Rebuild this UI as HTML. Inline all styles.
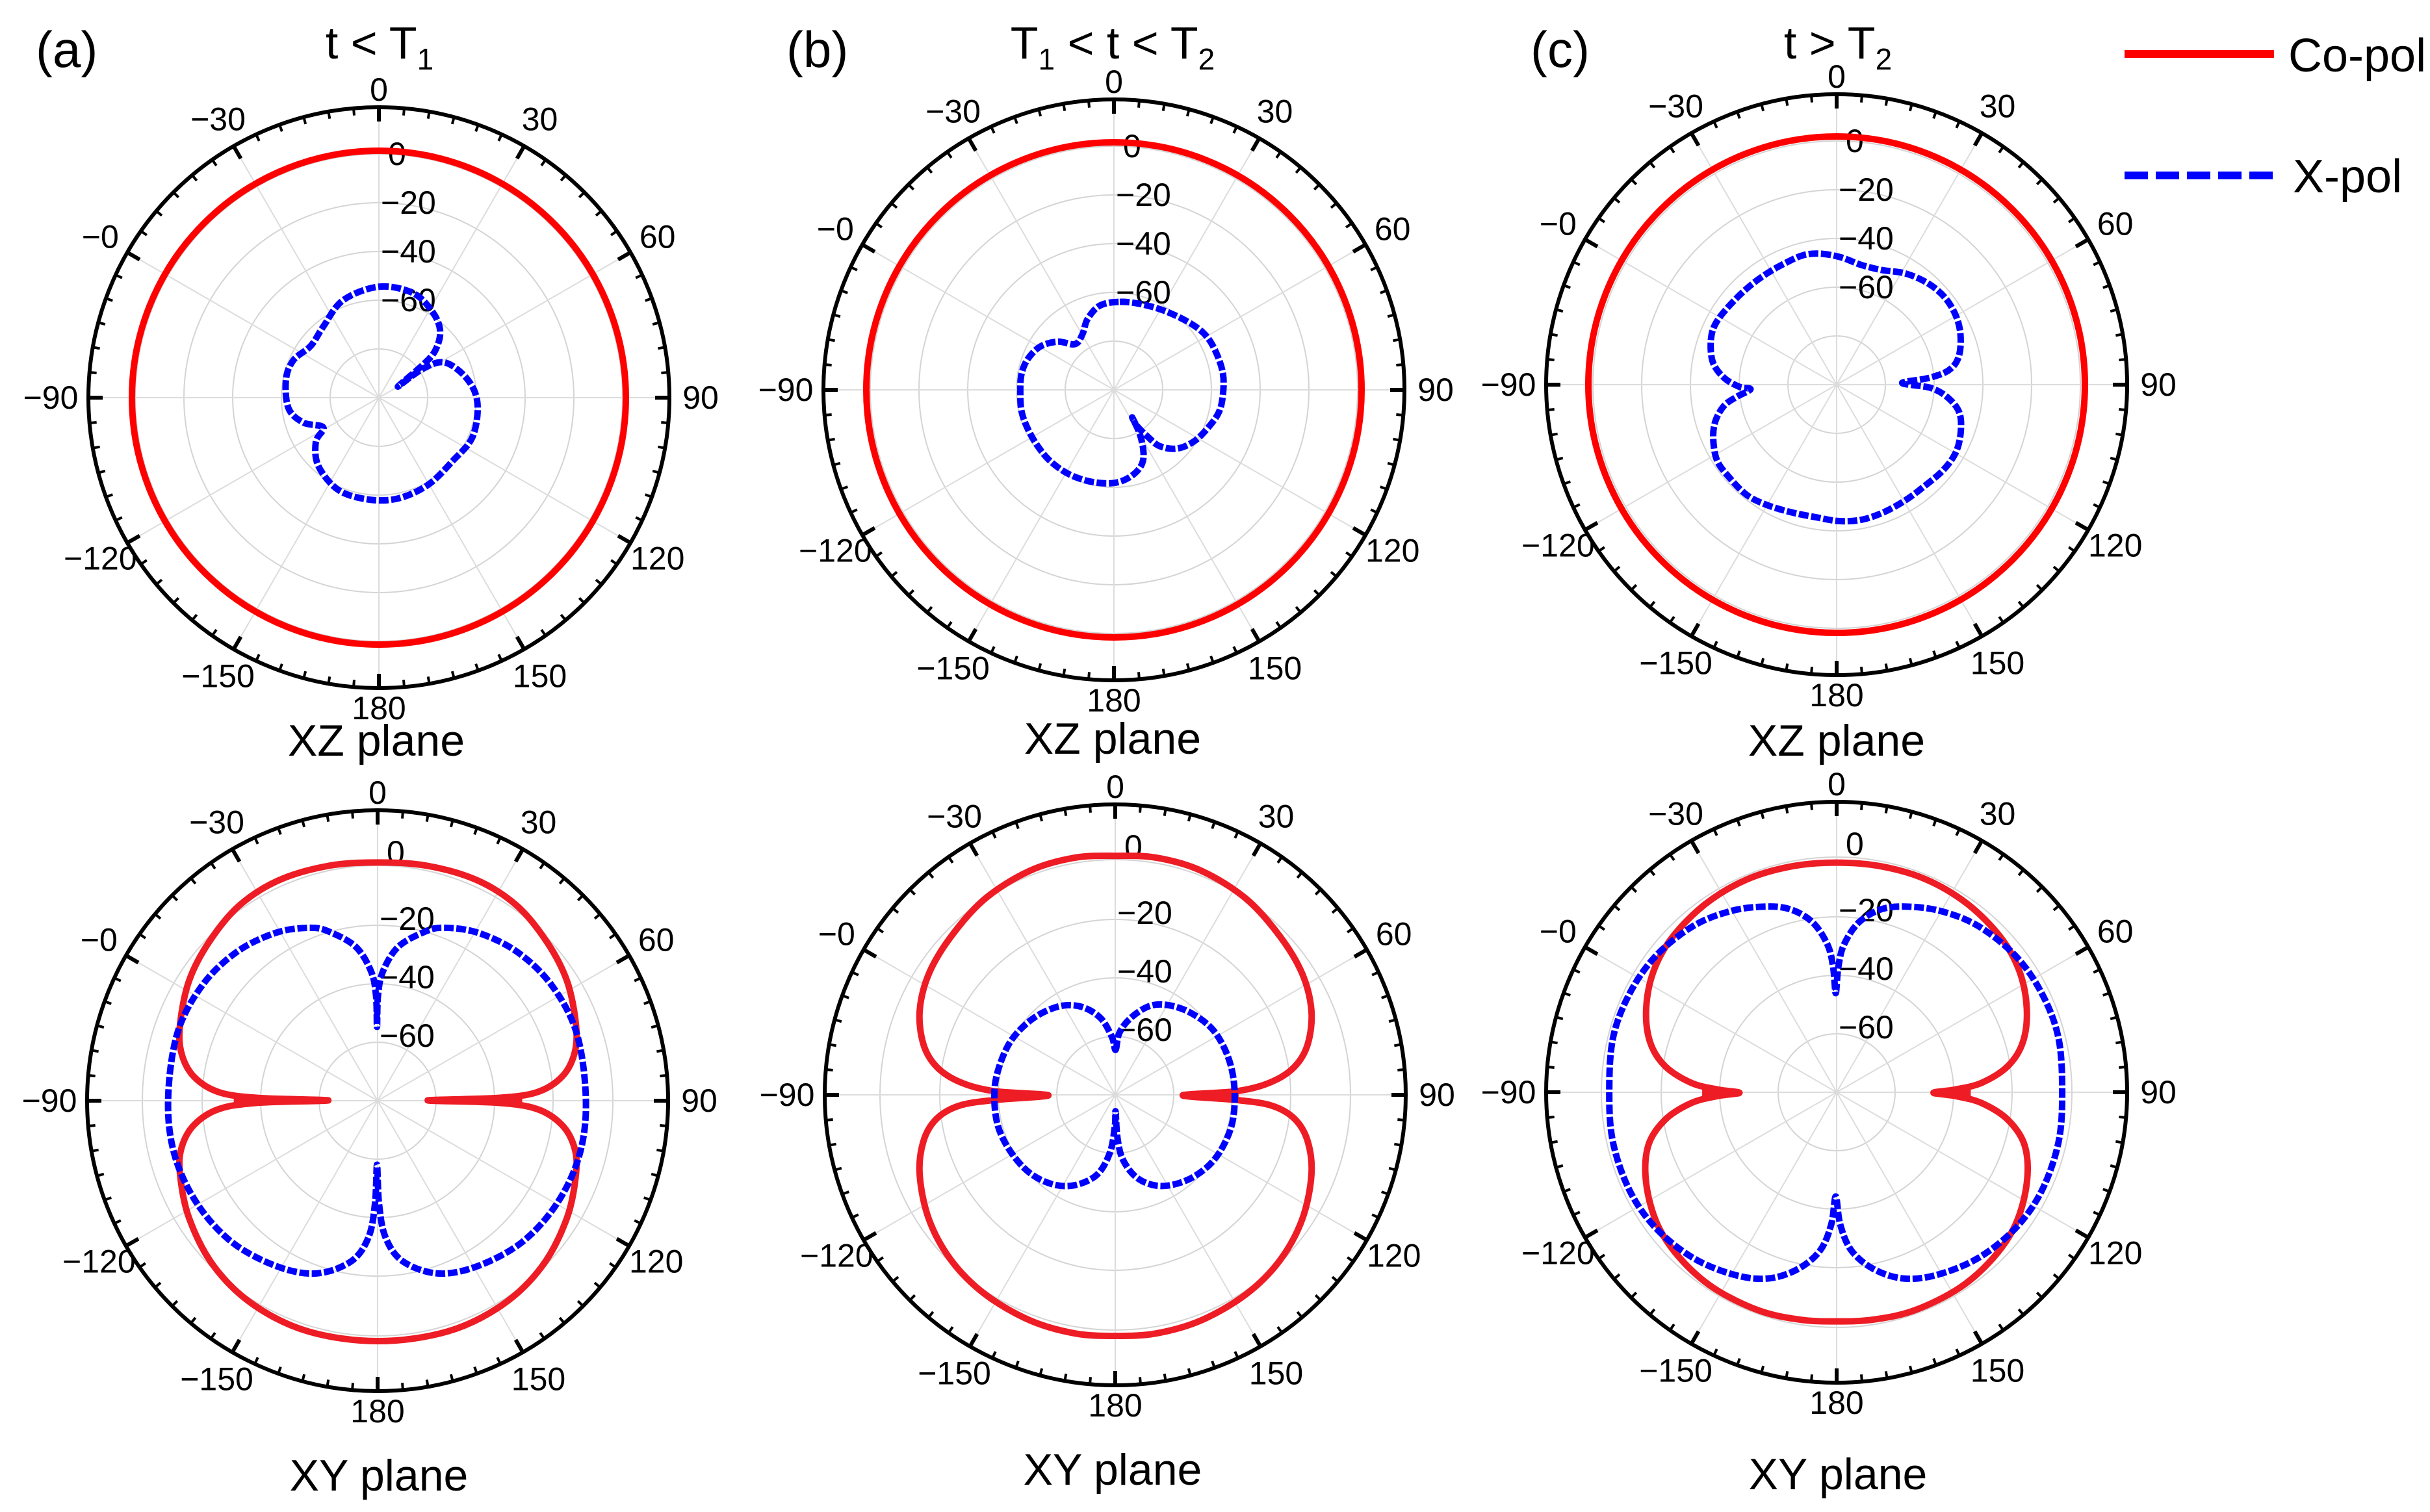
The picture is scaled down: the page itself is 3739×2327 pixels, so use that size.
<!DOCTYPE html>
<html><head><meta charset="utf-8"><style>
html,body{margin:0;padding:0;background:#fff;}
svg{display:block;}
text{font-family:"Liberation Sans",sans-serif;fill:#000;}
</style></head><body>
<svg id="s" width="3739" height="2327" viewBox="0 0 3739 2327" xmlns="http://www.w3.org/2000/svg">
<g id="axes"></g>
<g id="curves"></g>
<g id="labels">
<text x="55" y="103" font-size="78">(a)</text>
<text x="1210" y="103" font-size="78">(b)</text>
<text x="2355" y="103" font-size="78">(c)</text>
<text x="584" y="90" font-size="70" text-anchor="middle">t &lt; T<tspan font-size="46" dy="17">1</tspan></text>
<text x="1712" y="90" font-size="70" text-anchor="middle">T<tspan font-size="46" dy="17">1</tspan><tspan dy="-17"> &lt; t &lt; T</tspan><tspan font-size="46" dy="17">2</tspan></text>
<text x="2828" y="90" font-size="70" text-anchor="middle">t &gt; T<tspan font-size="46" dy="17">2</tspan></text>
<line x1="3269" y1="83" x2="3499" y2="83" stroke="#ff0000" stroke-width="12"/>
<text x="3521" y="110" font-size="72">Co-pol</text>
<line x1="3269" y1="270" x2="3499" y2="270" stroke="#0000ff" stroke-width="12" stroke-dasharray="36 12"/>
<text x="3528" y="296" font-size="72">X-pol</text>
<text x="579" y="1163" font-size="68" text-anchor="middle">XZ plane</text>
<text x="1712" y="1160" font-size="68" text-anchor="middle">XZ plane</text>
<text x="2826" y="1163" font-size="68" text-anchor="middle">XZ plane</text>
<text x="583" y="2294" font-size="68" text-anchor="middle">XY plane</text>
<text x="1712" y="2285" font-size="68" text-anchor="middle">XY plane</text>
<text x="2828" y="2292" font-size="68" text-anchor="middle">XY plane</text>
</g>
</svg>
<script>
var NS="http://www.w3.org/2000/svg";
var axes=document.getElementById("axes"),curves=document.getElementById("curves");
function el(p,tag,a,txt){var e=document.createElementNS(NS,tag);for(var k in a)e.setAttribute(k,a[k]);if(txt!=null)e.textContent=txt;p.appendChild(e);return e;}
function P(cx,cy,r,deg){var t=deg*Math.PI/180;return [cx+r*Math.sin(t),cy-r*Math.cos(t)];}
var R=447;
var panels=[
 {cx:583,cy:612,rings:[75,150,225,300,375],lab:["0","−20","−40","−60","−80"],top:true},
 {cx:1714,cy:600,rings:[75,150,225,300,375],lab:["0","−20","−40","−60","−80"],top:true},
 {cx:2826,cy:592,rings:[75,150,225,300,375],lab:["0","−20","−40","−60","−80"],top:true},
 {cx:581,cy:1694,rings:[90,180,270,362],lab:["0","−20","−40","−60"],top:false},
 {cx:1716,cy:1685,rings:[90,180,270,362],lab:["0","−20","−40","−60"],top:false},
 {cx:2826,cy:1681,rings:[90,180,270,362],lab:["0","−20","−40","−60"],top:false}
];
var angLab=[[0,"0"],[30,"30"],[60,"60"],[90,"90"],[120,"120"],[150,"150"],[180,"180"],[210,"−150"],[240,"−120"],[270,"−90"],[300,"−0"],[330,"−30"]];
panels.forEach(function(p){
 var g=el(axes,"g",{});
 p.rings.forEach(function(r){el(g,"circle",{cx:p.cx,cy:p.cy,r:r,fill:"none",stroke:"#d4d4d4","stroke-width":2});});
 for(var a=0;a<360;a+=30){var q=P(p.cx,p.cy,R-20,a);el(g,"line",{x1:p.cx,y1:p.cy,x2:q[0],y2:q[1],stroke:"#dcdcdc","stroke-width":2});}
 el(g,"circle",{cx:p.cx,cy:p.cy,r:R,fill:"none",stroke:"#000","stroke-width":6});
 for(var a=0;a<360;a+=5){var L=(a%30==0)?22:11;var q1=P(p.cx,p.cy,R,a),q2=P(p.cx,p.cy,R-L,a);
  el(g,"line",{x1:q1[0],y1:q1[1],x2:q2[0],y2:q2[1],stroke:"#000","stroke-width":(a%30==0)?6:4});}
 angLab.forEach(function(l){var r=(l[0]==0)?474:(l[0]==180?478:(l[0]==270?505:495));var q=P(p.cx,p.cy,r,l[0]);
  el(g,"text",{x:q[0],y:q[1]+17,"font-size":50,"text-anchor":"middle"},l[1]);});
 var rs=p.rings.slice().reverse();
 rs.forEach(function(r,i){
  var t=p.lab[i]; if(p.top){ if(i==4) return; }
  var x=(t=="0")?p.cx+14:p.cx+3; var dy=p.top?17:(t=="0"?-3:7);
  el(g,"text",{x:x,y:p.cy-r+dy,"font-size":50},t);
 });
});
function cr(pts,closed){
 var n=pts.length,d="M"+pts[0][0]+","+pts[0][1];
 var last=closed?n:n-1;
 for(var i=0;i<last;i++){
  var p0=pts[(i-1+n)%n],p1=pts[i],p2=pts[(i+1)%n],p3=pts[(i+2)%n];
  if(!closed){if(i==0)p0=p1;if(i+2>=n)p3=p2;}
  var c1=[p1[0]+(p2[0]-p0[0])/6,p1[1]+(p2[1]-p0[1])/6],c2=[p2[0]-(p3[0]-p1[0])/6,p2[1]-(p3[1]-p1[1])/6];
  d+=" C"+c1[0].toFixed(1)+","+c1[1].toFixed(1)+" "+c2[0].toFixed(1)+","+c2[1].toFixed(1)+" "+p2[0]+","+p2[1];
 }
 if(closed)d+="Z";return d;
}
function mirrorFull(half,mx){
 var left=half.slice(1,-1).reverse().map(function(q){return [2*mx-q[0],q[1]];});
 return half.concat(left);
}
function grp(ox,oy,sx,sy){return el(curves,"g",{transform:"translate("+ox+","+oy+") scale("+(1/sx)+","+(1/sy)+")"});}
var RED2={fill:"none",stroke:"#ee1c24","stroke-width":10,"vector-effect":"non-scaling-stroke","stroke-linejoin":"round"};
var BLUE={fill:"none",stroke:"#0000ff","stroke-width":10,"stroke-dasharray":"15 4","vector-effect":"non-scaling-stroke","stroke-linejoin":"round"};
function circ(p,r){el(curves,"circle",{cx:p.cx,cy:p.cy,r:r,fill:"none",stroke:"#ff0000","stroke-width":10});}
circ(panels[0],380);circ(panels[1],381);circ(panels[2],382);
var g=grp(0,0,1.3067,1.353);
el(g,"path",Object.assign({d:cr([[762,597],[830,610],[870,650],[885,690],[875,730],[850,760],[800,805],[850,768],[895,755],[940,790],[960,840],[950,910],[910,960],[860,1010],[800,1038],[740,1040],[680,1020],[640,970],[635,920],[650,890],[610,880],[580,850],[575,790],[590,750],[625,720],[650,680],[690,625]],true)},BLUE));
g=grp(1413,300,2.613,2.613);
el(g,"path",Object.assign({d:cr([[810,430],[900,440],[1000,470],[1100,520],[1160,570],[1200,640],[1225,720],[1225,800],[1210,870],[1170,930],[1110,990],[1040,1020],[970,1010],[920,970],[880,930],[860,895],[890,960],[905,1030],[900,1080],[870,1120],[820,1150],[760,1160],[680,1150],[600,1120],[530,1070],[480,1010],[440,940],[415,870],[410,790],[415,720],[440,660],[490,610],[560,590],[630,600],[660,560],[680,500],[730,445]],true)},BLUE));
g=grp(2527,291,2.613,2.613);
el(g,"path",Object.assign({d:cr([[720,260],[800,275],[880,305],[960,325],[1060,340],[1150,380],[1220,440],[1265,520],[1280,600],[1270,680],[1230,730],[1150,760],[1045,780],[1160,800],[1230,840],[1275,900],[1280,980],[1260,1060],[1210,1130],[1140,1190],[1060,1250],[970,1300],[880,1330],[790,1335],[700,1320],[600,1300],[500,1270],[420,1230],[350,1160],[300,1090],[285,1000],[295,930],[330,870],[380,835],[435,805],[390,795],[330,760],[285,700],[275,620],[290,550],[340,480],[420,400],[500,340],[580,295],[650,265]],true)},BLUE));
g=grp(0,1160,1.3067,1.344);
function redXY(g,half,mx,tipIn,tipOut,cy,w){
 var up=half.up,lo=half.lo;
 el(g,"path",Object.assign({d:cr(mirrorFull(up.concat([[tipIn,cy]]).concat(lo),mx),true)},RED2));
 el(g,"polygon",{points:tipIn+","+cy+" "+tipOut+","+(cy-w)+" "+tipOut+","+(cy+w),fill:"#ee1c24"});
 var L=2*mx-tipIn,Lo=2*mx-tipOut;
 el(g,"polygon",{points:L+","+cy+" "+Lo+","+(cy-w)+" "+Lo+","+(cy+w),fill:"#ee1c24"});
}
redXY(g,{up:[[760,225],[860,232],[960,262],[1040,315],[1100,390],[1140,470],[1158,560],[1155,620],[1130,668],[1080,700],[1000,712]],
 lo:[[1000,722],[1080,735],[1130,768],[1155,815],[1158,870],[1140,960],[1090,1060],[1010,1140],[900,1195],[760,1215]]},760,860,1050,717,10);
el(g,"path",Object.assign({d:cr(mirrorFull([[758,565],[760,500],[770,450],[800,400],[850,370],[890,360],[960,370],[1040,410],[1110,480],[1160,580],[1178,717],[1165,830],[1120,930],[1050,1010],[960,1060],[880,1075],[810,1050],[775,1000],[762,930],[758,850]],758),true)},BLUE));
g=grp(1263,1234,1.742,1.742);
redXY(g,{up:[[790,145],[900,150],[1020,185],[1140,260],[1230,360],[1290,460],[1315,560],[1305,650],[1270,710],[1210,750],[1120,775]],
 lo:[[1120,800],[1210,815],[1270,850],[1305,910],[1315,1000],[1290,1120],[1230,1230],[1140,1320],[1020,1390],[900,1425],[790,1432]]},790,970,1120,787,14);
el(g,"path",Object.assign({d:cr([[790,665],[800,620],[830,580],[880,548],[930,545],[990,565],[1050,610],[1090,680],[1108,760],[1105,850],[1080,920],[1040,975],[980,1015],[910,1030],[850,1010],[810,960],[795,900],[790,830],[788,870],[775,940],[740,1000],[680,1028],[620,1025],[560,995],[510,940],[475,870],[465,790],[475,720],[510,640],[570,580],[640,548],[700,550],[750,580],[780,630]],true)},BLUE));
g=grp(2378,1230,1.742,1.742);
redXY(g,{up:[[780,170],[900,180],[1020,215],[1130,280],[1220,370],[1270,460],[1290,560],[1280,650],[1240,715],[1170,760],[1100,778]],
 lo:[[1100,796],[1170,815],[1240,860],[1285,930],[1290,1030],[1260,1140],[1200,1230],[1110,1310],[990,1370],[880,1395],[780,1400]]},780,1040,1140,787,12);
el(g,"path",Object.assign({d:cr(mirrorFull([[778,520],[785,450],[800,390],[840,330],[900,295],[970,288],[1060,300],[1160,340],[1260,420],[1330,520],[1375,640],[1385,787],[1375,920],[1330,1050],[1260,1150],[1160,1230],[1050,1275],[960,1285],[880,1260],[820,1210],[790,1140],[778,1065]],778),true)},BLUE));
</script>
</body></html>
